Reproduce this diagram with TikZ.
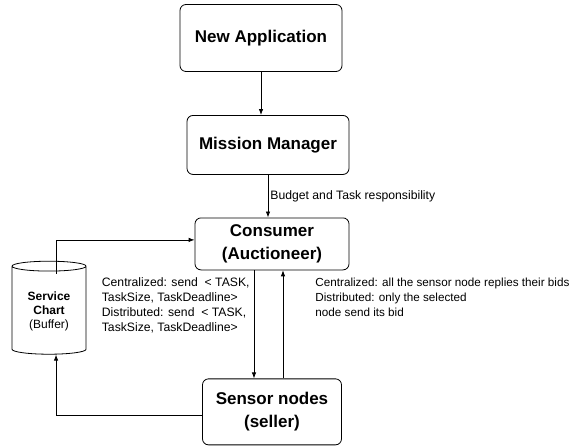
\documentclass[tikz,border=0pt]{standalone}
\usepackage{fontspec}
\setmainfont{Liberation Sans}
\usetikzlibrary{shapes.geometric,arrows.meta}

\tikzset{
  block/.style={draw,rounded corners=6pt,line width=0.8pt,inner sep=0pt,align=center,
    font=\fontsize{17}{23}\selectfont\bfseries},
  note/.style={align=left,inner sep=2pt,font=\fontsize{12.2}{15}\selectfont},
}

\begin{document}
\begin{tikzpicture}[x=1pt,y=1pt,>={Latex[length=6pt,width=4.5pt]},line width=0.8pt]
      \useasboundingbox (0,0) rectangle (573,447);

      \node[block,minimum width=162pt,minimum height=67pt] (app) at (261,409) {New Application};
      \node[block,minimum width=162pt,minimum height=59pt,below of=app,yshift=-78.5pt,xshift=7pt] (mm) {Mission Manager};
      \node[block,minimum width=154pt,minimum height=52pt,below of=mm,yshift=-70.5pt,xshift=4pt] (con) {Consumer\\(Auctioneer)};
      \node[block,minimum width=139pt,minimum height=66pt,below of=con,yshift=-139.5pt] (sen) {Sensor nodes\\(seller)};
      \node[draw,cylinder,shape border rotate=90,aspect=0.2,minimum width=74pt,minimum height=93pt,
        font=\fontsize{12}{14}\selectfont,
        left of=con,xshift=-194.5pt,yshift=-67.5pt] (chart)
        {\raisebox{-4pt}{\begin{tabular}{@{}c@{}}\textbf{Service}\\\textbf{Chart}\\(Buffer)\end{tabular}}};

      \draw[->] (app) -- (app |- mm.north);
      \draw[->] (mm) -- node[note,right] {Budget and Task responsibility} (mm |- con.north);
      \draw[->] ([xshift=-18pt]con.south) -- node[note,left,pos=0.32,xshift=-2pt]
        {Centralized: send \ < TASK,\\TaskSize, TaskDeadline>\\Distributed: send \ < TASK,\\TaskSize, TaskDeadline>}
        ([xshift=-18pt]con.south |- sen.north);
      \draw[->] ([xshift=11pt]sen.north) -- node[note,right,pos=0.75,xshift=30pt,font=\fontsize{11.7}{15}\selectfont]
        {Centralized: all the sensor node replies their bids\\Distributed: only the selected\\node send its bid}
        ([xshift=11pt]sen.north |- con.south);
      \draw[->] ([xshift=7pt,yshift=-13pt]chart.north) |- ([yshift=4pt]con.west);
      \draw[->] ([yshift=-4pt]sen.west) -| ([xshift=7pt]chart.south);
    \end{tikzpicture}
\end{document}
